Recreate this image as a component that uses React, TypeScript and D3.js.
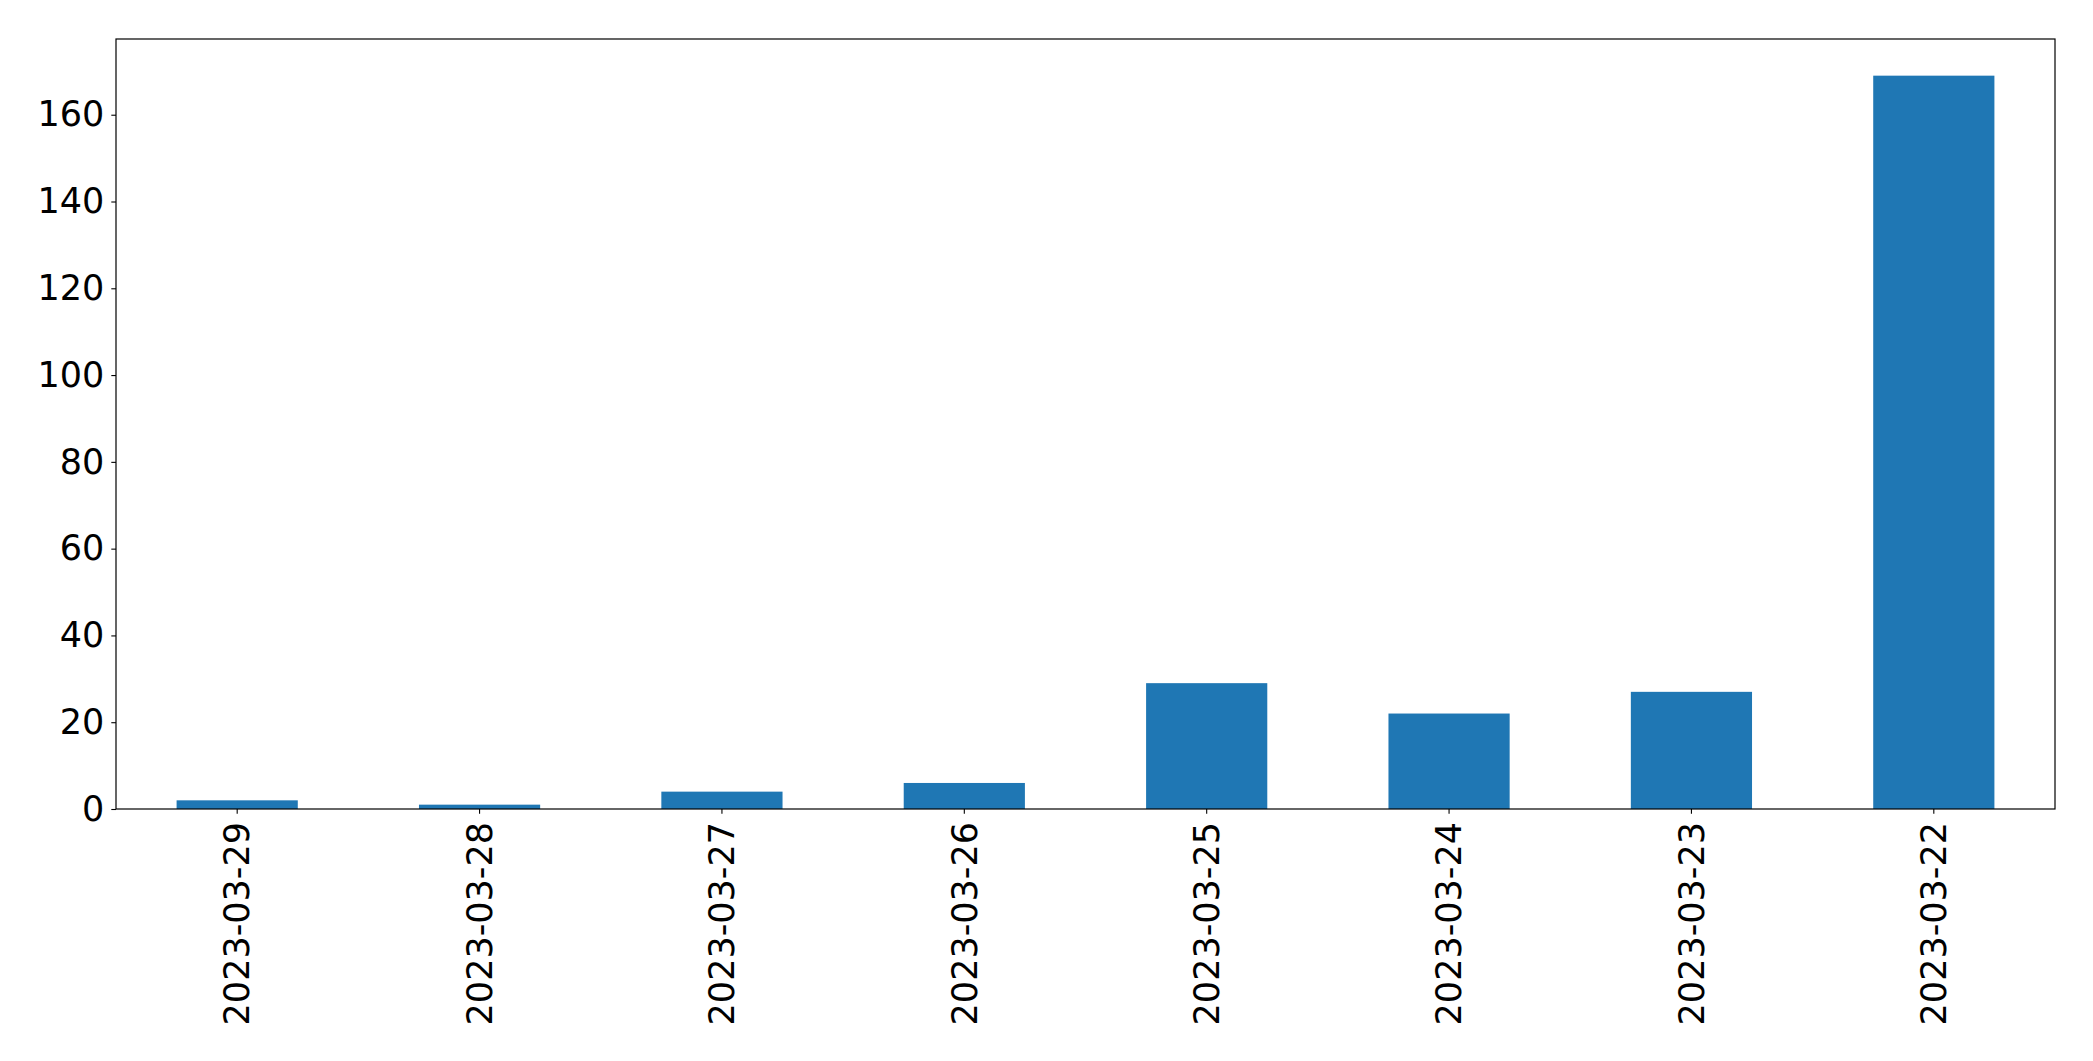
import { useEffect, useRef } from "react";
import * as d3 from "d3";

const dates = [
  "2023-03-29",
  "2023-03-28",
  "2023-03-27",
  "2023-03-26",
  "2023-03-25",
  "2023-03-24",
  "2023-03-23",
  "2023-03-22",
];
const counts = [2, 1, 4, 6, 29, 22, 27, 169];
const yTicks = [0, 20, 40, 60, 80, 100, 120, 140, 160];

const width = 2093;
const height = 1061;
const margin = { top: 39, right: 38, bottom: 252, left: 116 };

export default function App() {
  const svgRef = useRef<SVGSVGElement | null>(null);

  useEffect(() => {
    if (!svgRef.current) return;
    const svg = d3.select(svgRef.current);
    svg.selectAll("*").remove();

    const innerW = width - margin.left - margin.right;
    const innerH = height - margin.top - margin.bottom;

    // x: matplotlib style band, bar width 0.5 of the slot
    const x = d3
      .scaleBand<string>()
      .domain(dates)
      .range([0, innerW])
      .paddingInner(0.5)
      .paddingOuter(0.25);

    const yMax = d3.max(counts)! * 1.05;
    const y = d3.scaleLinear().domain([0, yMax]).range([innerH, 0]);

    const g = svg
      .append("g")
      .attr("transform", `translate(${margin.left},${margin.top})`);

    g.selectAll("rect.bar")
      .data(dates)
      .join("rect")
      .attr("class", "bar")
      .attr("x", (d) => x(d)!)
      .attr("width", x.bandwidth())
      .attr("y", (_, i) => y(counts[i]))
      .attr("height", (_, i) => innerH - y(counts[i]))
      .attr("fill", "#1f77b4");

    // frame
    g.append("rect")
      .attr("width", innerW)
      .attr("height", innerH)
      .attr("fill", "none")
      .attr("stroke", "#000")
      .attr("stroke-width", 1.2);

    const fontFamily = "'DejaVu Sans', sans-serif";

    const yAxis = g
      .append("g")
      .call(
        d3
          .axisLeft(y)
          .tickValues(yTicks)
          .tickSize(4.7)
          .tickPadding(7)
          .tickFormat(d3.format("d")),
      );
    yAxis.select(".domain").remove();
    yAxis
      .selectAll("text")
      .attr("font-size", 35)
      .attr("font-family", fontFamily)
      .attr("fill", "#000");
    yAxis.selectAll("line").attr("stroke", "#000").attr("stroke-width", 1.1);

    const xAxis = g
      .append("g")
      .attr("transform", `translate(0,${innerH})`)
      .call(d3.axisBottom(x).tickSize(4.7).tickPadding(7));
    xAxis.select(".domain").remove();
    xAxis.selectAll("line").attr("stroke", "#000").attr("stroke-width", 1.1);
    xAxis
      .selectAll<SVGTextElement, string>("text")
      .attr("font-size", 35)
      .attr("font-family", fontFamily)
      .attr("fill", "#000")
      .attr("text-anchor", "end")
      .attr("dy", "0.35em")
      .attr("y", 0)
      .attr("x", 0)
      .attr("transform", "translate(0,13) rotate(-90)");
  }, []);

  return (
    <svg
      ref={svgRef}
      width={width}
      height={height}
      viewBox={`0 0 ${width} ${height}`}
      style={{ position: "absolute", left: 0, top: 0, background: "#fff" }}
    />
  );
}
